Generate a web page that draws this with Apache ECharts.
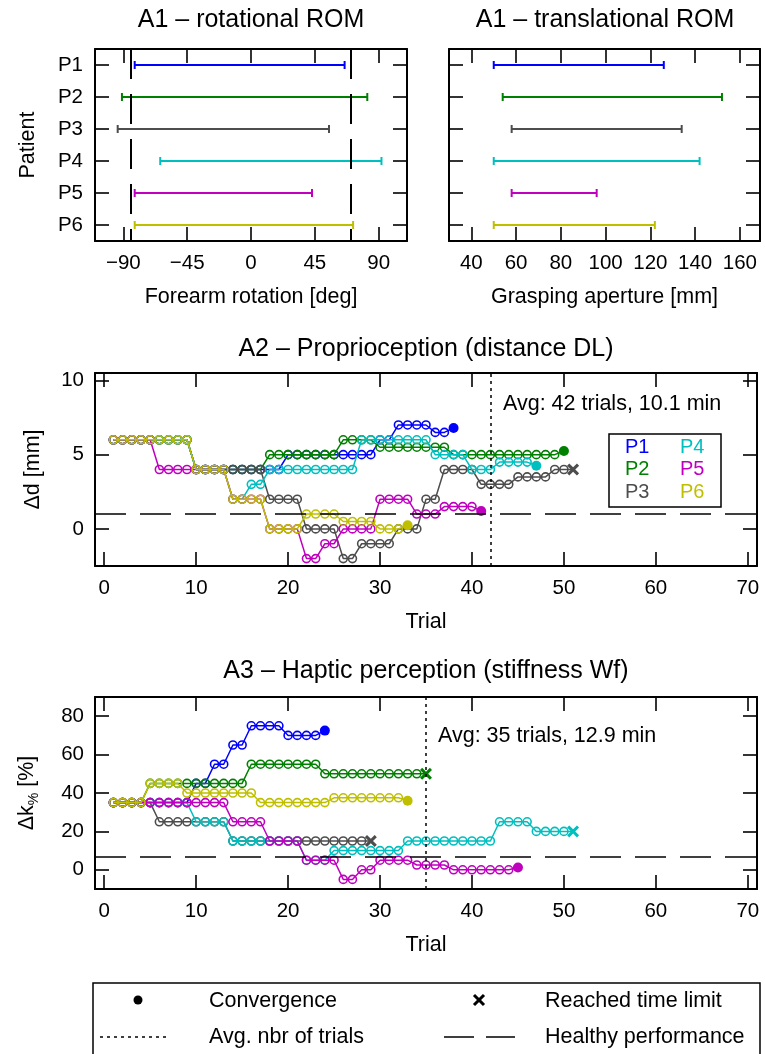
<!DOCTYPE html>
<html><head><meta charset="utf-8">
<script src="https://cdn.jsdelivr.net/npm/echarts@6/dist/echarts.min.js"></script>
<style>html,body{margin:0;padding:0;background:#fff}#c{width:765px;height:1054px}</style>
</head><body><div id="c"></div><script>
// ---------- DATA ----------
const patients = ['P1','P2','P3','P4','P5','P6'];
const colors = ['#0000ff','#008000','#4d4d4d','#00bfbf','#bf00bf','#bfbf00'];

// A1 ranges of motion
const rotMin = [-82, -91, -94, -64, -82, -82];
const rotMax = [66, 82, 55, 92, 43, 72];
const rotHealthy = [-85, 70];
const transMin = [50, 54, 58, 50, 58, 50];
const transMax = [126, 152, 134, 142, 96, 122];
const rotTicks = [-90, -45, 0, 45, 90];
const transTicks = [40, 60, 80, 100, 120, 140, 160];

// A2 proprioception staircase (value per trial, trial 1 onwards)
const a2P1 = [6,6,6,6,6,6,6,6,6, 4,4,4,4,4,4,4,4,4,4, 5,5,5,5,5,5,5,5,5,5, 6,6, 7,7,7,7, 6.5,6.5];
const a2P2 = [6,6,6,6,6,6,6,6,6, 4,4,4,4,4,4,4,4, 5,5,5,5,5,5,5,5, 6,6,6,6, 5.5,5.5,5.5,5.5,5.5,5.5,5.5,5.5, 5,5,5,5,5,5,5,5,5,5,5,5];
const a2P3 = [6,6,6,6,6,6,6,6,6, 4,4,4,4,4,4,4,4, 2,2,2,2, 0,0,0,0, -2,-2, -1,-1,-1,-1, 0,0,0, 2,2, 4,4,4,4, 3,3,3,3, 3.5,3.5,3.5,3.5, 4,4];
const a2P4 = [6,6,6,6,6,6,6,6,6, 4,4,4,4, 2,2, 3,3, 4,4,4,4,4,4,4,4,4,4, 6,6,6,6,6,6,6,6, 5,5,5,5, 4,4,4, 4.5,4.5,4.5,4.5];
const a2P5 = [6,6,6,6,6, 4,4,4,4,4,4,4,4, 2,2,2,2, 0,0,0,0, -2,-2, -1,-1, 0,0,0,0, 2,2,2,2, 1,1,1, 1.5,1.5,1.5,1.5];
const a2P6 = [6,6,6,6,6,6,6,6,6, 4,4,4,4, 2,2,2,2, 0,0,0,0, 1,1,1,1, 0.5,0.5,0.5,0.5, 0,0,0];
const a2End = [6.8, 5.25, 4, 4.25, 1.2, 0.25];
const a2EndType = ['conv','conv','limit','conv','conv','conv'];
const a2Healthy = 1;
const a2AvgTrials = 42;
const a2Ticks = [0, 5, 10];

// A3 haptic perception staircase
const a3P1 = [35,35,35,35,35,35,35,35,35, 45,45, 55,55, 65,65, 75,75,75,75, 70,70,70,70];
const a3P2 = [35,35,35,35, 45,45,45,45,45,45,45,45,45,45,45, 55,55,55,55,55,55,55,55, 50,50,50,50,50,50,50,50,50,50,50];
const a3P3 = [35,35,35,35,35, 25,25,25,25,25,25,25,25, 15,15,15,15,15,15,15,15,15,15,15,15,15,15,15];
const a3P4 = [35,35,35,35,35,35,35,35,35, 25,25,25,25, 15,15,15,15,15,15,15,15, 5,5,5, 10,10,10,10,10,10,10,10, 15,15,15,15,15,15,15,15,15,15, 25,25,25,25, 20,20,20,20];
const a3P5 = [35,35,35,35,35,35,35,35,35,35,35,35,35, 25,25,25,25, 15,15,15,15, 5,5,5,5, -5,-5, 0,0, 5,5,5,5, 2.5,2.5,2.5,2.5, 0,0,0,0,0,0,0];
const a3P6 = [35,35,35,35, 45,45,45,45, 40,40,40,40,40,40,40,40, 35,35,35,35,35,35,35,35, 37.5,37.5,37.5,37.5,37.5,37.5,37.5,37.5];
const a3End = [72.5, 50, 15, 20, 1.2, 36];
const a3EndType = ['conv','limit','limit','limit','conv','conv'];
const a3Healthy = 7;
const a3AvgTrials = 35;
const a3Ticks = [0, 20, 40, 60, 80];

const trialTicks = [0, 10, 20, 30, 40, 50, 60, 70];

// ---------- CHART ----------
const FONT = "'Liberation Sans', Arial, Helvetica, sans-serif";
const XPATH = 'path://M0,1.8L1.8,0L5,3.2L8.2,0L10,1.8L6.8,5L10,8.2L8.2,10L5,6.8L1.8,10L0,8.2L3.2,5Z';
const chart = echarts.init(document.getElementById('c'), null, {renderer: 'canvas'});

const axLine = {show: true, onZero: false, lineStyle: {color: '#000', width: 2}};
const tick = (vals) => ({show: true, inside: true, length: 14, lineStyle: {color: '#000', width: 1.6}, customValues: vals});
const lab = (vals, margin) => ({show: true, color: '#000', fontSize: 20.5, fontFamily: FONT, margin: margin, customValues: vals,
  formatter: v => (v < 0 ? '\u2212' + Math.abs(v) : String(v))});
const nameStyle = {color: '#000', fontSize: 21.5, fontFamily: FONT};

function valX(grid, min, max, vals, name) {
  return [
    {gridIndex: grid, type: 'value', min, max, position: 'bottom', axisLine: axLine, axisTick: tick(vals),
     axisLabel: lab(vals, 12), splitLine: {show: false}, name, nameLocation: 'middle', nameGap: 45, nameTextStyle: nameStyle},
    {gridIndex: grid, type: 'value', min, max, position: 'top', axisLine: axLine, axisTick: tick(vals),
     axisLabel: {show: false}, splitLine: {show: false}}
  ];
}
function valY(grid, min, max, vals, name, gap, rich) {
  const ns = Object.assign({}, nameStyle);
  if (rich) ns.rich = rich;
  return [
    {gridIndex: grid, type: 'value', min, max, position: 'left', axisLine: axLine, axisTick: tick(vals),
     axisLabel: lab(vals, 11), splitLine: {show: false}, name, nameLocation: 'middle', nameGap: gap, nameTextStyle: ns},
    {gridIndex: grid, type: 'value', min, max, position: 'right', axisLine: axLine, axisTick: tick(vals),
     axisLabel: {show: false}, splitLine: {show: false}}
  ];
}
function catY(grid, showLabels, name) {
  const base = {gridIndex: grid, type: 'category', data: patients, inverse: true, boundaryGap: true,
    axisLine: axLine, axisTick: {show: true, inside: true, length: 14, alignWithLabel: true, interval: 0, lineStyle: {color: '#000', width: 1.6}},
    splitLine: {show: false}};
  return [
    Object.assign({}, base, {position: 'left', axisLabel: showLabels ? {show: true, color: '#000', fontSize: 20.5, fontFamily: FONT, margin: 12, interval: 0} : {show: false},
      name: name || '', nameLocation: 'middle', nameGap: 56, nameTextStyle: nameStyle}),
    Object.assign({}, base, {position: 'right', axisLabel: {show: false}})
  ];
}

const xAxes = [].concat(
  valX(0, -110, 110, rotTicks, 'Forearm rotation [deg]'),
  valX(1, 30, 169, transTicks, 'Grasping aperture [mm]'),
  valX(2, -1, 71, trialTicks, 'Trial'),
  valX(3, -1, 71, trialTicks, 'Trial')
);
const yAxes = [].concat(
  catY(0, true, 'Patient'),
  catY(1, false, ''),
  valY(2, -2.5, 10.5, a2Ticks, '\u0394d [mm]', 51),
  valY(3, -10, 90, a3Ticks, '\u0394k{sub|%} [%]', 54, {sub: {fontSize: 14, fontFamily: FONT, color: '#000', verticalAlign: 'bottom', padding: [14, 0, 0, 0]}})
);

function rangeSeries(mins, maxs, xi, yi) {
  return {
    type: 'custom', xAxisIndex: xi, yAxisIndex: yi, animation: false, silent: true,
    data: patients.map((p, i) => [mins[i], maxs[i], i]),
    encode: {x: [0, 1], y: 2},
    renderItem: (params, api) => {
      const lo = api.coord([api.value(0), api.value(2)]);
      const hi = api.coord([api.value(1), api.value(2)]);
      const c = colors[params.dataIndex];
      const h = 4;
      const st = {stroke: c, lineWidth: 2};
      return {type: 'group', children: [
        {type: 'line', shape: {x1: lo[0], y1: lo[1], x2: hi[0], y2: hi[1]}, style: st},
        {type: 'line', shape: {x1: lo[0], y1: lo[1] - h, x2: lo[0], y2: lo[1] + h}, style: st},
        {type: 'line', shape: {x1: hi[0], y1: hi[1] - h, x2: hi[0], y2: hi[1] + h}, style: st}
      ]};
    }
  };
}

function trialSeries(vals, end, type, idx, xi, yi) {
  const color = colors[idx];
  const data = vals.map((v, i) => [i + 1, v]);
  data.push({
    value: [vals.length + 1, end],
    symbol: type === 'conv' ? 'circle' : XPATH,
    symbolSize: type === 'conv' ? 10 : 12,
    itemStyle: {color: color, borderWidth: 0}
  });
  return {
    type: 'line', name: patients[idx], xAxisIndex: xi, yAxisIndex: yi, data,
    symbol: 'circle', symbolSize: 8, showAllSymbol: true, animation: false, silent: true,
    lineStyle: {color: color, width: 1.5},
    itemStyle: {color: 'rgba(0,0,0,0)', borderColor: color, borderWidth: 1.6},
    emphasis: {disabled: true}, z: 3 + idx * 0.01
  };
}

function refLines(xi, yi, items, dash, width) {
  return {
    type: 'line', xAxisIndex: xi, yAxisIndex: yi, data: [], animation: false, silent: true,
    markLine: {silent: true, symbol: ['none', 'none'], label: {show: false}, animation: false,
      lineStyle: {color: '#000', width: width, type: dash}, emphasis: {disabled: true}, data: items}
  };
}

const a2Sets = [a2P1, a2P2, a2P3, a2P4, a2P5, a2P6];
const a3Sets = [a3P1, a3P2, a3P3, a3P4, a3P5, a3P6];

const series = [
  refLines(0, 0, rotHealthy.map(v => ({xAxis: v})), [30, 15], 2),
  rangeSeries(rotMin, rotMax, 0, 0),
  rangeSeries(transMin, transMax, 2, 2),
  refLines(4, 4, [{yAxis: a2Healthy}], [31, 14], 1.5),
  refLines(4, 4, [{xAxis: a2AvgTrials}], [3, 4], 1.5),
  refLines(6, 6, [{yAxis: a3Healthy}], [31, 14], 1.5),
  refLines(6, 6, [{xAxis: a3AvgTrials}], [3, 4], 1.5)
];
a2Sets.forEach((s, i) => series.push(trialSeries(s, a2End[i], a2EndType[i], i, 4, 4)));
a3Sets.forEach((s, i) => series.push(trialSeries(s, a3End[i], a3EndType[i], i, 6, 6)));

const txt = (text, x, y, size, align, extra) => Object.assign({
  type: 'text', x, y, silent: true,
  style: {text, fill: '#000', font: size + 'px ' + FONT, textAlign: align || 'left', textVerticalAlign: 'middle'}
}, extra || {});

const graphic = [
  txt('A1 \u2013 rotational ROM', 251, 20, 25, 'center'),
  txt('A1 \u2013 translational ROM', 605, 20, 25, 'center'),
  txt('A2 \u2013 Proprioception (distance DL)', 426, 349, 25, 'center'),
  txt('A3 \u2013 Haptic perception (stiffness Wf)', 426, 671, 25, 'center'),
  txt('Avg: ' + a2AvgTrials + ' trials, 10.1 min', 503, 404, 21.5),
  txt('Avg: ' + a3AvgTrials + ' trials, 12.9 min', 438, 736, 21.5),
  // A2 inline legend
  {type: 'rect', silent: true, shape: {x: 609, y: 434, width: 112, height: 73}, style: {fill: '#fff', stroke: '#000', lineWidth: 1.5}, z: 50},
  // bottom legend
  {type: 'rect', silent: true, shape: {x: 93, y: 983, width: 667, height: 90}, style: {fill: 'none', stroke: '#000', lineWidth: 1.5}},
  {type: 'circle', silent: true, shape: {cx: 138, cy: 1000, r: 4.5}, style: {fill: '#000'}},
  txt('Convergence', 209, 1001, 21.5),
  {type: 'line', silent: true, shape: {x1: 474, y1: 995, x2: 484, y2: 1005}, style: {stroke: '#000', lineWidth: 3}},
  {type: 'line', silent: true, shape: {x1: 474, y1: 1005, x2: 484, y2: 995}, style: {stroke: '#000', lineWidth: 3}},
  txt('Reached time limit', 545, 1001, 21.5),
  {type: 'line', silent: true, shape: {x1: 100, y1: 1037, x2: 168, y2: 1037}, style: {stroke: '#000', lineWidth: 1.5, lineDash: [3, 4]}},
  txt('Avg. nbr of trials', 209, 1037, 21.5),
  {type: 'line', silent: true, shape: {x1: 444, y1: 1037, x2: 515, y2: 1037}, style: {stroke: '#000', lineWidth: 1.5, lineDash: [30, 12]}},
  txt('Healthy performance', 545, 1037, 21.5)
];
const legendPos = [[625, 447], [625, 469.5], [625, 492], [680, 447], [680, 469.5], [680, 492]];
patients.forEach((p, i) => {
  graphic.push({type: 'text', x: legendPos[i][0], y: legendPos[i][1], z: 51, silent: true,
    style: {text: p, fill: colors[i], font: '20px ' + FONT, textAlign: 'left', textVerticalAlign: 'middle'}});
});

chart.setOption({
  backgroundColor: '#fff',
  animation: false,
  textStyle: {fontFamily: FONT},
  grid: [
    {left: 95, top: 49, width: 312, height: 192, containLabel: false},
    {left: 449, top: 49, width: 311, height: 192, containLabel: false},
    {left: 95, top: 373, width: 662, height: 193, containLabel: false},
    {left: 95, top: 697, width: 662, height: 192, containLabel: false}
  ],
  xAxis: xAxes,
  yAxis: yAxes,
  series,
  graphic
});
</script></body></html>
